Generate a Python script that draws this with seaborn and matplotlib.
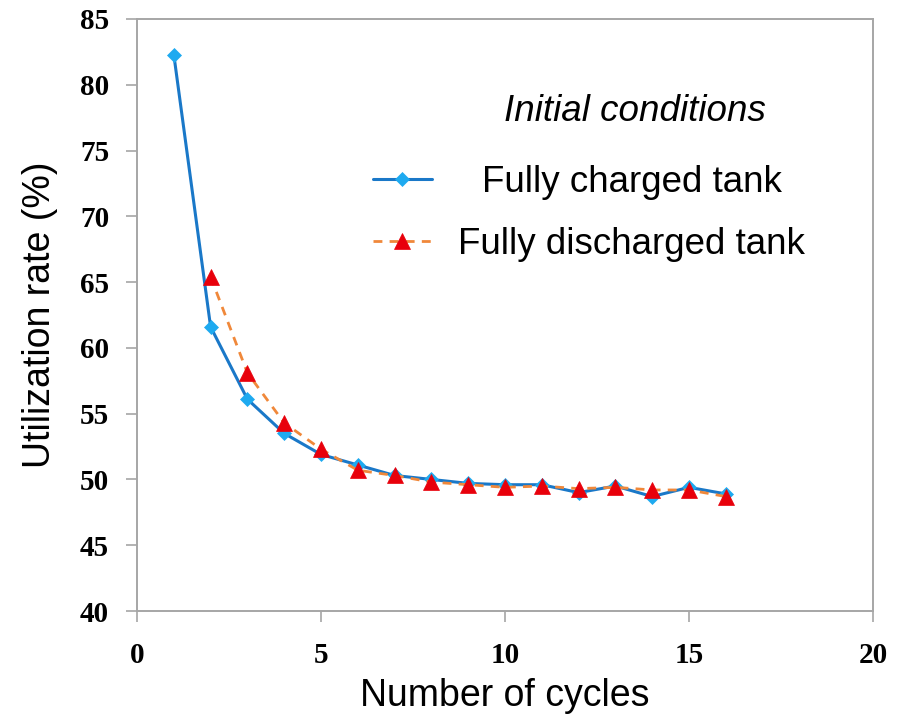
import matplotlib
matplotlib.use("Agg")
import matplotlib.pyplot as plt
from matplotlib.transforms import ScaledTranslation
import seaborn as sns
import pandas as pd

# ---- data ----
cycles_charged = [1, 2, 3, 4, 5, 6, 7, 8, 9, 10, 11, 12, 13, 14, 15, 16]
rate_charged = [82.3, 61.6, 56.1, 53.5, 51.9, 51.1, 50.3, 50.0, 49.7, 49.6,
                49.6, 49.0, 49.5, 48.7, 49.4, 48.9]
cycles_discharged = [2, 3, 4, 5, 6, 7, 8, 9, 10, 11, 12, 13, 14, 15, 16]
rate_discharged = [65.4, 58.1, 54.3, 52.3, 50.7, 50.3, 49.8, 49.6, 49.4, 49.5,
                   49.3, 49.4, 49.2, 49.2, 48.7]
label_charged = "Fully charged tank"
label_discharged = "Fully discharged tank"
legend_title = "Initial conditions"
x_ticks = [0, 5, 10, 15, 20]
y_ticks = [40, 45, 50, 55, 60, 65, 70, 75, 80, 85]

df_c = pd.DataFrame({"cycles": cycles_charged, "rate": rate_charged})
df_d = pd.DataFrame({"cycles": cycles_discharged, "rate": rate_discharged})

sns.set_theme(style="white")
plt.rcParams["font.family"] = ["Liberation Sans", "DejaVu Sans"]
plt.rcParams["text.color"] = "black"
plt.rcParams["axes.labelcolor"] = "black"

fig = plt.figure(figsize=(8.97, 7.21), dpi=100)
ax = fig.add_axes([137 / 897, 1 - 611 / 721, (873 - 137) / 897, (611 - 19) / 721])

sns.lineplot(data=df_c, x="cycles", y="rate", ax=ax, color="#1a78c8",
             linewidth=2.2, marker="D", markersize=7,
             markerfacecolor="#1eaaf0", markeredgecolor="#1eaaf0",
             markeredgewidth=0.5, label=label_charged)
sns.lineplot(data=df_d, x="cycles", y="rate", ax=ax, color="#f0883a",
             linewidth=2.0, linestyle=(0, (3.2, 2.6)), marker="^",
             markersize=11, markerfacecolor="#e8000b",
             markeredgecolor="#e8000b", markeredgewidth=0.5,
             label=label_discharged)

ax.set_xlim(0, 20)
ax.set_ylim(40, 85)
ax.set_xticks(x_ticks)
ax.set_yticks(y_ticks)
ax.set_xticklabels([str(v) for v in x_ticks])
ax.set_yticklabels([str(v) for v in y_ticks])

for lab in ax.get_xticklabels() + ax.get_yticklabels():
    lab.set_fontfamily(["Liberation Serif", "DejaVu Serif"])
    lab.set_fontweight("bold")
    lab.set_fontsize(21)
    lab.set_color("black")

ax.tick_params(axis="both", which="major", direction="out", length=8,
               width=1.2, color="#a6a6a6", left=True, bottom=True)
ax.tick_params(axis="y", pad=12)
ax.tick_params(axis="x", pad=14)

for s in ax.spines.values():
    s.set_color("#a6a6a6")
    s.set_linewidth(1.4)
    s.set_visible(True)

ax.set_xlabel("Number of cycles", fontsize=27, labelpad=7, color="black")
ax.set_ylabel("Utilization rate (%)", fontsize=27, labelpad=16, color="black")

leg = ax.legend(loc="upper left", bbox_to_anchor=(373 / 897, 1 - 102 / 721),
                bbox_transform=fig.transFigure, frameon=False,
                title=legend_title, fontsize=26.5, title_fontsize=26.5,
                handlelength=1.6, handletextpad=0.72, labelspacing=0.75,
                borderpad=0, borderaxespad=0, labelcolor="black")
leg.get_title().set_fontstyle("italic")
leg.get_title().set_color("black")

# centre the texts like the reference
texts = leg.get_texts()
dpi = fig.dpi
texts[0].set_transform(texts[0].get_transform() +
                       ScaledTranslation(24 / dpi, 0, fig.dpi_scale_trans))
title = leg.get_title()
title.set_transform(title.get_transform() +
                    ScaledTranslation(46 / dpi, 8 / dpi, fig.dpi_scale_trans))

fig.savefig("out.png", dpi=100)
